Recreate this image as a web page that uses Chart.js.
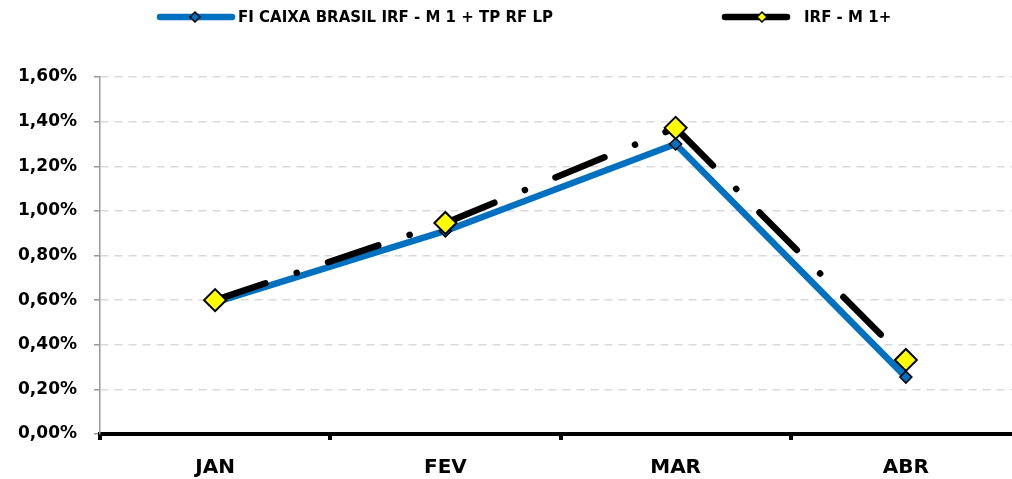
<!DOCTYPE html>
<html><head><meta charset="utf-8">
<script src="https://cdn.jsdelivr.net/npm/chart.js@4/dist/chart.umd.min.js"></script>
<style>html,body{margin:0;padding:0;overflow:hidden;background:#fff}#wrap{width:1034px;height:479px;position:relative}</style>
</head><body><div id="wrap"><canvas id="c" width="1034" height="479"></canvas></div>
<script>
const categories = ['JAN', 'FEV', 'MAR', 'ABR'];
const fundName = 'FI CAIXA BRASIL IRF - M 1 + TP RF LP';
const fundValues = [0.59, 0.91, 1.30, 0.255];
const benchName = 'IRF - M 1+';
const benchValues = [0.60, 0.946, 1.372, 0.332];
const yMin = 0, yMax = 1.6, yStep = 0.2;

const FONT = "'DejaVu Sans', sans-serif";
const BLUE = '#0070C0';
const fmt = v => v.toFixed(2).replace('.', ',') + '%';

const legendPlugin = {
  id: 'customLegend',
  afterDraw(chart) {
    const ctx = chart.ctx;
    const items = [
      {x0: 160, x1: 232, mx: 195, tx: 238, color: BLUE, fill: BLUE, r: 5, text: fundName},
      {x0: 725, x1: 787, mx: 762, tx: 804, color: '#000', fill: '#FFFF00', r: 5, text: benchName}
    ];
    const y = 17;
    ctx.save();
    items.forEach(it => {
      ctx.beginPath();
      ctx.lineWidth = 6.5;
      ctx.lineCap = 'round';
      ctx.strokeStyle = it.color;
      ctx.moveTo(it.x0, y); ctx.lineTo(it.x1, y);
      ctx.stroke();
      ctx.beginPath();
      ctx.moveTo(it.mx, y - it.r); ctx.lineTo(it.mx + it.r, y); ctx.lineTo(it.mx, y + it.r); ctx.lineTo(it.mx - it.r, y); ctx.closePath();
      ctx.fillStyle = it.fill; ctx.fill();
      ctx.lineWidth = 1.5; ctx.strokeStyle = '#000'; ctx.stroke();
      ctx.fillStyle = '#000';
      ctx.font = "bold 15px " + FONT;
      ctx.textBaseline = 'middle';
      ctx.textAlign = 'left';
      ctx.fillText(it.text, it.tx, y + 1);
    });
    ctx.restore();
  }
};

new Chart(document.getElementById('c'), {
  type: 'line',
  data: {
    labels: categories,
    datasets: [
      {
        label: fundName, data: fundValues, order: 2,
        borderColor: BLUE, borderWidth: 6.5, borderJoinStyle: 'round',
        pointStyle: 'rectRot', pointRadius: 6, pointBackgroundColor: BLUE,
        pointBorderColor: '#000', pointBorderWidth: 1.5, tension: 0
      },
      {
        label: benchName, data: benchValues, order: 1,
        borderColor: '#000', borderWidth: 6.5, borderCapStyle: 'round',
        borderDash: [53, 33, 0.1, 33],
        segment: { borderDashOffset: c => c.p0DataIndex * 0.001 },
        pointStyle: 'rectRot', pointRadius: 11, pointBackgroundColor: '#FFFF00',
        pointBorderColor: '#000', pointBorderWidth: 2, tension: 0
      }
    ]
  },
  options: {
    responsive: false,
    animation: false,
    events: [],
    layout: { padding: { top: 77, left: 0, right: 0, bottom: 0 } },
    plugins: { legend: { display: false }, tooltip: { enabled: false } },
    scales: {
      x: {
        offset: true,
        afterFit: s => { s.height = 45; },
        grid: { offset: true, drawOnChartArea: false, tickLength: 6, tickColor: '#000', tickWidth: 4, color: '#000', lineWidth: 4 },
        border: { color: '#000', width: 4 },
        ticks: { color: '#000', padding: 16, font: { family: FONT, size: 20, weight: 'bold' } }
      },
      y: {
        min: yMin, max: yMax,
        afterFit: s => { s.width = 100; },
        grid: {
          color: c => (c.tick && c.tick.value === 0) ? 'rgba(0,0,0,0)' : '#d9d9d9',
          lineWidth: 1.5, tickColor: '#999', tickLength: 6, tickWidth: 1.5, tickBorderDash: []
        },
        border: { color: '#999', width: 1.5, dash: [8, 6] },
        ticks: {
          stepSize: yStep, padding: 17, color: '#000',
          font: { family: FONT, size: 17, weight: 'bold' },
          callback: v => fmt(v)
        }
      }
    }
  },
  plugins: [legendPlugin]
});
</script>
</body></html>
